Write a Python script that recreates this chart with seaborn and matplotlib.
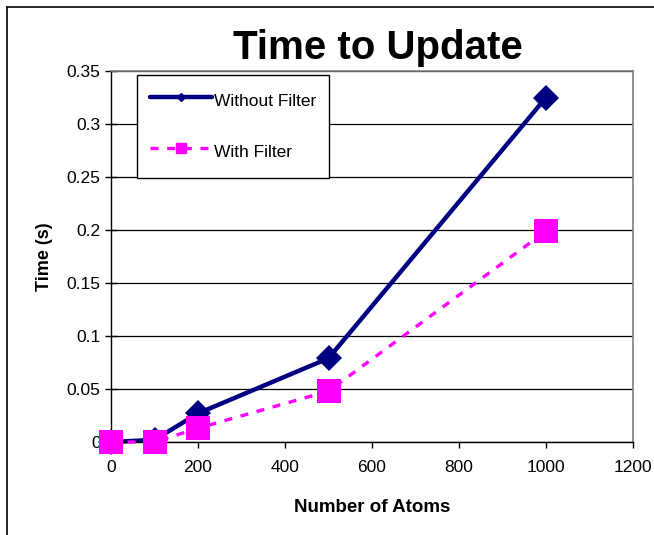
import matplotlib
matplotlib.use("Agg")
import matplotlib.pyplot as plt
import seaborn as sns
import pandas as pd
from matplotlib.lines import Line2D

atoms = [0, 100, 200, 500, 1000]
without_filter = [0.0, 0.002, 0.027, 0.079, 0.325]
with_filter = [0.0, 0.0, 0.013, 0.048, 0.199]
x_ticks = [0, 200, 400, 600, 800, 1000, 1200]
y_ticks = [0, 0.05, 0.1, 0.15, 0.2, 0.25, 0.3, 0.35]
y_tick_labels = ["0", "0.05", "0.1", "0.15", "0.2", "0.25", "0.3", "0.35"]

sns.set_theme(style="white")
plt.rcParams['font.family'] = ['Liberation Sans', 'DejaVu Sans']
plt.rcParams['text.color'] = 'black'
plt.rcParams['axes.labelcolor'] = 'black'

fig = plt.figure(figsize=(6.54, 5.35), dpi=100)
ax = fig.add_axes([111/654, 1-442/535, (633-111)/654, (442-71)/535])

df1 = pd.DataFrame({"x": atoms, "y": without_filter})
df2 = pd.DataFrame({"x": atoms, "y": with_filter})

sns.lineplot(data=df2, x="x", y="y", ax=ax, color="#FF00FF", linewidth=2.4,
             linestyle=(0, (2.4, 2.6)), marker="s", markersize=17,
             markeredgewidth=0, clip_on=False, label="With Filter", zorder=3)
sns.lineplot(data=df1, x="x", y="y", ax=ax, color="#000080", linewidth=3.2,
             marker="D", markersize=13, markeredgewidth=0,
             clip_on=False, label="Without Filter", zorder=2)

ax.set_xlim(0, 1200)
ax.set_ylim(0, 0.35)
ax.set_xticks(x_ticks)
ax.set_xticklabels([str(v) for v in x_ticks])
ax.set_yticks(y_ticks)
ax.set_yticklabels(y_tick_labels)
ax.tick_params(axis="y", labelsize=12.5, colors="black", direction="inout",
               length=9, width=1, left=True, pad=3)
ax.tick_params(axis="x", labelsize=12.5, colors="black", direction="out",
               length=4, width=1, bottom=True, pad=9)
ax.grid(axis="y", color="black", linewidth=0.9)
ax.grid(axis="x", visible=False)
ax.set_axisbelow(True)
for s in ["left", "bottom"]:
    ax.spines[s].set_color("black")
    ax.spines[s].set_linewidth(1)
for s in ["top", "right"]:
    ax.spines[s].set_color("#808080")
    ax.spines[s].set_linewidth(1.2)

ax.set_xlabel("Number of Atoms", fontsize=13.5, fontweight="bold", labelpad=17)
ax.set_ylabel("Time (s)", fontsize=13, fontweight="bold", labelpad=10)
fig.text(378/654, 1-59/535, "Time to Update", fontsize=29, fontweight="bold",
         ha="center", va="baseline", color="black")

h = [Line2D([0], [0], color="#000080", linewidth=3.2, marker="D", markersize=4.5),
     Line2D([0], [0], color="#FF00FF", linewidth=2.4, linestyle=(0, (2.4, 2.6)),
            marker="s", markersize=7)]
leg = ax.legend(handles=h, labels=["Without Filter", "With Filter"],
                loc="upper left", bbox_to_anchor=(0.05, 0.99), fontsize=12.5,
                frameon=True, fancybox=False, framealpha=1, edgecolor="black",
                handlelength=3.6, handleheight=2.0, handletextpad=0.1,
                labelspacing=1.38, borderpad=0.73, borderaxespad=0)
leg.get_frame().set_linewidth(1)

fig.add_artist(Line2D([7/654, 7/654], [0, 1-7/535], color="black", linewidth=1.2,
                      transform=fig.transFigure))
fig.add_artist(Line2D([7/654, 1], [1-7/535, 1-7/535], color="black", linewidth=1.2,
                      transform=fig.transFigure))

fig.savefig("out.png", dpi=100, facecolor="white")
